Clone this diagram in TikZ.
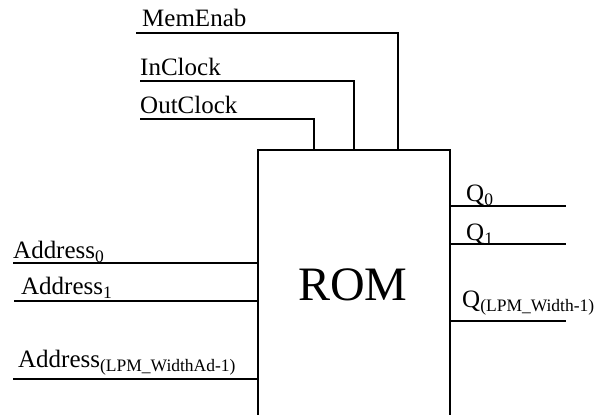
\documentclass[tikz,border=0pt]{standalone}
\usepackage{fontspec}
\setmainfont{Liberation Serif}
\newcommand{\pinsub}[1]{\raisebox{-4pt}{\fontsize{17.5}{18}\selectfont #1}}

\begin{document}
\begin{tikzpicture}[x=1pt, y=-1pt,
    wire/.style={line width=1.6pt, black},
    pinlabel/.style={anchor=base west, inner sep=0pt, font=\fontsize{25}{27}\selectfont},
    chip/.style={rectangle, draw, line width=1.6pt, anchor=north west, minimum width=192pt, minimum height=280pt, inner sep=0pt}
]
\useasboundingbox (0,0) rectangle (598,415);
\clip (0,0) rectangle (598,415);
\node[chip] (rom) at (257,149) {};
\node[anchor=base, inner sep=0pt, font=\fontsize{48}{50}\selectfont] (romtext) at (353,300) {ROM};
% control inputs on top
\coordinate (memIn) at (136,33);
\coordinate (inclkIn) at (140,81);
\coordinate (outclkIn) at (140,119);
\coordinate (memPin) at (398,149);
\coordinate (inclkPin) at (354,149);
\coordinate (outclkPin) at (314,149);
\node[pinlabel] (memLbl) at (142,27) {MemEnab};
\node[pinlabel] (inclkLbl) at (140,75) {InClock};
\node[pinlabel] (outclkLbl) at (140,113) {OutClock};
\draw[wire] (memIn) -| (memPin);
\draw[wire] (inclkIn) -| (inclkPin);
\draw[wire] (outclkIn) -| (outclkPin);
% address inputs
\coordinate (adr0In) at (13,263);
\coordinate (adr1In) at (14,301);
\coordinate (adrNIn) at (13,379);
\node[pinlabel] (adr0Lbl) at (13,258) {Address\pinsub{0}};
\node[pinlabel] (adr1Lbl) at (21,294) {Address\pinsub{1}};
\node[pinlabel] (adrNLbl) at (18,367) {Address\pinsub{(LPM\_WidthAd-1)}};
\draw[wire] (adr0In) -- (adr0In -| rom.west);
\draw[wire] (adr1In) -- (adr1In -| rom.west);
\draw[wire] (adrNIn) -- (adrNIn -| rom.west);
% data outputs
\coordinate (q0Out) at (566,206);
\coordinate (q1Out) at (566,244);
\coordinate (qNOut) at (566,321);
\node[pinlabel] (q0Lbl) at (466,201) {Q\pinsub{0}};
\node[pinlabel] (q1Lbl) at (466,240) {Q\pinsub{1}};
\node[pinlabel] (qNLbl) at (462,307) {Q\pinsub{(LPM\_Width-1)}};
\draw[wire] (q0Out -| rom.east) -- (q0Out);
\draw[wire] (q1Out -| rom.east) -- (q1Out);
\draw[wire] (qNOut -| rom.east) -- (qNOut);
\end{tikzpicture}
\end{document}
